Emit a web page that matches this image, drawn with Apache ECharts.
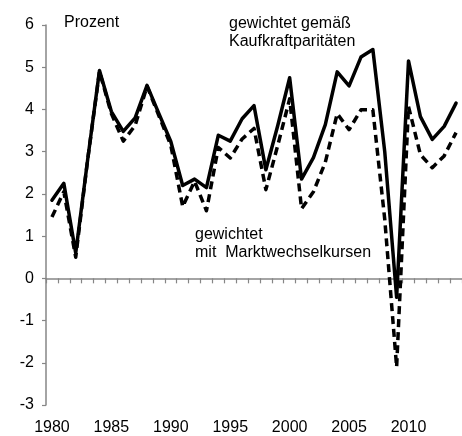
<!DOCTYPE html>
<html>
<head>
<meta charset="utf-8">
<script src="https://cdn.jsdelivr.net/npm/echarts@6/dist/echarts.min.js"></script>
<style>
html,body{margin:0;padding:0;background:#fff;}
#chart{width:462px;height:436px;}
</style>
</head>
<body>
<div id="chart"></div>
<script>
var years = ['1980','1981','1982','1983','1984','1985','1986','1987','1988','1989',
             '1990','1991','1992','1993','1994','1995','1996','1997','1998','1999',
             '2000','2001','2002','2003','2004','2005','2006','2007','2008','2009',
             '2010','2011','2012','2013','2014'];
var kaufkraft = [1.85, 2.25, 0.6, 2.8, 4.92, 3.95, 3.48, 3.8, 4.57, 3.9,
                 3.24, 2.2, 2.35, 2.15, 3.39, 3.25, 3.78, 4.09, 2.57, 3.62,
                 4.75, 2.35, 2.86, 3.64, 4.89, 4.56, 5.24, 5.42, 3.0, -0.45,
                 5.15, 3.83, 3.29, 3.6, 4.15];
var markt = [1.45, 2.05, 0.5, 2.8, 4.9, 3.9, 3.25, 3.62, 4.55, 3.85,
             3.15, 1.7, 2.3, 1.6, 3.1, 2.85, 3.3, 3.55, 2.1, 3.15,
             4.25, 1.65, 2.05, 2.75, 3.9, 3.52, 3.99, 3.99, 1.4, -2.1,
             4.07, 2.93, 2.62, 2.9, 3.45];
var yTicks = {min: -3, max: 6, step: 1};

var chart = echarts.init(document.getElementById('chart'), null, {renderer: 'canvas'});
var font = 'Arial, "Liberation Sans", sans-serif';
var axisGrey = '#868686';
chart.setOption({
  animation: false,
  backgroundColor: '#ffffff',
  grid: {left: 46, right: -3, top: 25, bottom: 27, containLabel: false},
  xAxis: [{
    type: 'category', data: years, boundaryGap: true,
    axisLine: {onZero: true, lineStyle: {color: axisGrey, width: 1.5}},
    axisTick: {show: true, inside: false, length: 5, interval: 0, lineStyle: {color: axisGrey, width: 1.2}},
    axisLabel: {show: false},
    splitLine: {show: false}
  }, {
    type: 'category', data: years, boundaryGap: true, position: 'bottom',
    axisLine: {show: false}, axisTick: {show: false},
    axisLabel: {show: true, interval: 4, margin: 15, fontSize: 16, color: '#000', fontFamily: font},
    splitLine: {show: false}
  }],
  yAxis: {
    type: 'value', min: yTicks.min, max: yTicks.max, interval: yTicks.step,
    axisLine: {show: true, lineStyle: {color: axisGrey, width: 1.5}},
    axisTick: {show: true, length: 4, lineStyle: {color: axisGrey, width: 1.2}},
    axisLabel: {fontSize: 16, color: '#000', fontFamily: font, margin: 12},
    splitLine: {show: false}
  },
  series: [{
    name: 'gewichtet gemäß Kaufkraftparitäten', type: 'line', data: kaufkraft,
    xAxisIndex: 0, symbol: 'none', smooth: false,
    lineStyle: {color: '#000', width: 3.5, type: 'solid', join: 'round', cap: 'round'}
  }, {
    name: 'gewichtet mit Marktwechselkursen', type: 'line', data: markt,
    xAxisIndex: 0, symbol: 'none', smooth: false,
    lineStyle: {color: '#000', width: 3.5, type: [8, 5], join: 'round', cap: 'butt'}
  }],
  graphic: [
    {type: 'text', left: 64, top: 15, style: {text: 'Prozent', font: '16px ' + font, fill: '#000'}},
    {type: 'text', left: 229, top: 15, style: {text: 'gewichtet gemäß\nKaufkraftparitäten', font: '16px ' + font, fill: '#000', lineHeight: 18}},
    {type: 'text', left: 195, top: 226, style: {text: 'gewichtet\nmit  Marktwechselkursen', font: '16px ' + font, fill: '#000', lineHeight: 18}}
  ]
});
</script>
</body>
</html>
